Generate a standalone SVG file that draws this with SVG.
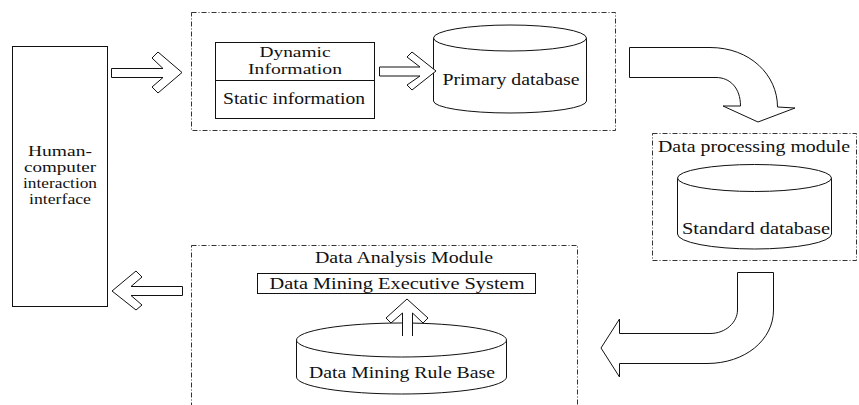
<svg xmlns="http://www.w3.org/2000/svg" width="859" height="405" viewBox="0 0 859 405">
<style>
.t{font-family:"Liberation Serif","Times New Roman",serif;font-size:17px;fill:#111;}
.h{font-size:15px;}
.c{text-anchor:middle;}
.s{fill:#fff;stroke:#111;stroke-width:1;}
.d{fill:none;stroke:#333;stroke-width:1;stroke-dasharray:5 2 1 2;}
.a{fill:#fff;stroke:#111;stroke-width:1;stroke-linejoin:miter;}
</style>
<rect width="859" height="405" fill="#fff"/>
<g id="modules">
<rect class="d" x="191.5" y="12.5" width="424" height="118"/>
<rect class="d" x="652.5" y="133.5" width="204" height="127"/>
<rect class="d" x="191.5" y="245.5" width="386" height="170"/>
</g>
<g id="hci">
<rect class="s" x="12.5" y="46.5" width="95" height="260"/>
<text class="t h c" x="60" y="156" textLength="64" lengthAdjust="spacingAndGlyphs">Human-</text>
<text class="t h c" x="60" y="172" textLength="72" lengthAdjust="spacingAndGlyphs">computer</text>
<text class="t h c" x="60" y="188" textLength="74" lengthAdjust="spacingAndGlyphs">interaction</text>
<text class="t h c" x="60" y="204" textLength="62" lengthAdjust="spacingAndGlyphs">interface</text>
</g>
<g id="info">
<rect class="s" x="215.5" y="42.5" width="159" height="76"/>
<line x1="215.5" y1="80.5" x2="374.5" y2="80.5" stroke="#111"/>
<text class="t h c" x="295" y="57" textLength="71" lengthAdjust="spacingAndGlyphs">Dynamic</text>
<text class="t h c" x="295" y="73.5" textLength="94" lengthAdjust="spacingAndGlyphs">Information</text>
<text class="t c" x="294" y="104" textLength="142" lengthAdjust="spacingAndGlyphs">Static information</text>
</g>
<g id="primary-db">
<path class="s" d="M433.5,38 L433.5,101 A76.5,12 0 0 0 586.5,101 L586.5,38"/>
<ellipse class="s" cx="510" cy="38" rx="76.5" ry="13"/>
<text class="t c" x="511" y="85" textLength="137" lengthAdjust="spacingAndGlyphs">Primary database</text>
</g>
<g id="processing">
<text class="t c" x="754" y="152" textLength="192" lengthAdjust="spacingAndGlyphs">Data processing module</text>
</g>
<g id="standard-db">
<path class="s" d="M677.5,178 L677.5,234 A77,15 0 0 0 831.5,234 L831.5,178"/>
<ellipse class="s" cx="754.5" cy="178" rx="77" ry="13.5"/>
<text class="t c" x="756" y="234" textLength="148" lengthAdjust="spacingAndGlyphs">Standard database</text>
</g>
<g id="analysis">
<text class="t c" x="404" y="263" textLength="178" lengthAdjust="spacingAndGlyphs">Data Analysis Module</text>
</g>
<g id="executive">
<rect class="s" x="257.5" y="273.5" width="278" height="20"/>
<text class="t c" x="397" y="289" textLength="255" lengthAdjust="spacingAndGlyphs">Data Mining Executive System</text>
</g>
<g id="rule-base">
<path class="s" d="M296.5,340 L296.5,377 A105,17 0 0 0 506.5,377 L506.5,340"/>
<ellipse class="s" cx="401.5" cy="340" rx="105" ry="17"/>
<text class="t c" x="402" y="378" textLength="186" lengthAdjust="spacingAndGlyphs">Data Mining Rule Base</text>
</g>
<g id="connectors">
<path class="a" d="M111.5,68.5 L163,68.5 L152,58 L158,52 L182,72.5 L158,93 L152,87 L163,77.5 L111.5,77.5 Z"/>
<path class="a" d="M379.5,67 L420,67 L407,57 L412,52 L436,71 L412,90 L407,85 L420,76 L379.5,76 Z"/>
<path class="a" d="M629.5,47.5 L710,47.5 C750,47.5 777.5,75 777.5,107 L795,108 L758,122 L723,106 L740.5,106 C740.5,88 730,77.5 716,77.5 L629.5,77.5 Z"/>
<path class="a" d="M773.5,272.5 L773.5,310 C773.5,340 745,363.5 707,363.5 L619.5,363.5 L619.5,377 L601,348 L619.5,319 L619.5,333.5 L710,333.5 C726,333.5 737.5,322 737.5,310 L737.5,272.5 Z"/>
<path class="a" d="M182.5,286.5 L131,286.5 L142,277 L136,271 L112,291 L136,310 L142,305 L131,295.5 L182.5,295.5 Z"/>
<path class="a" d="M402.5,336 L402.5,313 L391,323 L386,318 L407,299 L428,318 L423,323 L412.5,313 L412.5,336"/>
</g>
</svg>
